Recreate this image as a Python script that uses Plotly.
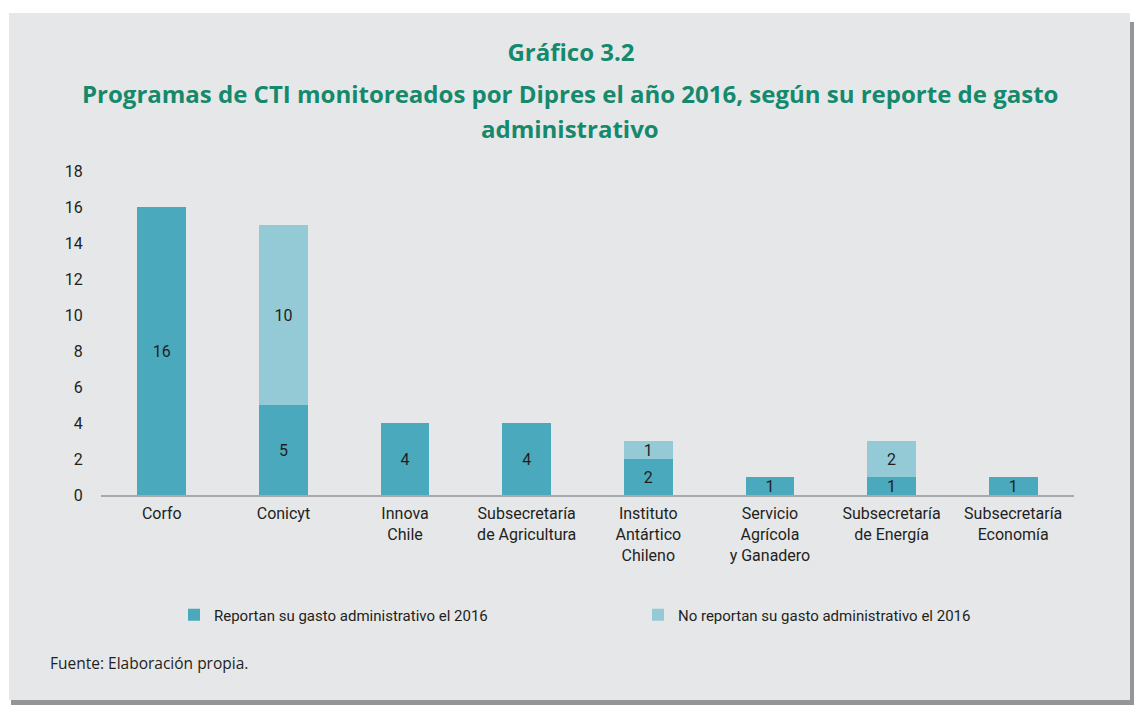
import plotly.graph_objects as go

W, H = 1136, 706
ML, MR, MT, MB = 101, 62, 171, 211
PW, PH = W - ML - MR, H - MT - MB

categories = ["Corfo", "Conicyt", "Innova<br>Chile", "Subsecretaría<br>de Agricultura",
              "Instituto<br>Antártico<br>Chileno", "Servicio<br>Agrícola<br>y Ganadero",
              "Subsecretaría<br>de Energía", "Subsecretaría<br>Economía"]
reportan = [16, 5, 4, 4, 2, 1, 1, 1]
no_reportan = [0, 10, 0, 0, 1, 0, 2, 0]
y_ticks = [0, 2, 4, 6, 8, 10, 12, 14, 16, 18]

series_names = ["Reportan su gasto administrativo el 2016",
                "No reportan su gasto administrativo el 2016"]
title_line1 = "Gráfico 3.2"
title_line2 = "Programas de CTI monitoreados por Dipres el año 2016, según su reporte de gasto"
title_line3 = "administrativo"
footer = "Fuente: Elaboración propia."

COND = "Roboto, Lato, sans-serif"
SANS = "Open Sans, DejaVu Sans, sans-serif"
TXT = "#231f20"
C1, C2 = "#4aa9bd", "#93cad6"
GREEN = "#14896c"


def px_x(x):
    return (x - ML) / PW


def px_y(y):
    return (H - MB - y) / PH


fig = go.Figure()
for name, vals, col in [(series_names[0], reportan, C1), (series_names[1], no_reportan, C2)]:
    fig.add_trace(go.Bar(
        x=categories, y=vals, name=name, marker=dict(color=col, line=dict(width=0)),
        text=[str(v) if v else "" for v in vals], textposition="inside",
        insidetextanchor="middle", textangle=0,
        textfont=dict(family=COND, size=16, color=TXT),
        width=0.4,
    ))

shapes = [
    dict(type="rect", xref="paper", yref="paper", layer="below",
         x0=px_x(11), x1=px_x(1134), y0=px_y(705), y1=px_y(22),
         fillcolor="#939598", line=dict(width=0)),
    dict(type="rect", xref="paper", yref="paper", layer="below",
         x0=px_x(9), x1=px_x(1130), y0=px_y(700), y1=px_y(13),
         fillcolor="#e6e7e9", line=dict(width=0)),
]

annotations = [
    dict(text=f"<b>{title_line2}</b>", xref="paper", yref="paper", x=px_x(570), y=px_y(93),
         xanchor="center", yanchor="middle", showarrow=False,
         font=dict(family=SANS, size=24, color=GREEN)),
    dict(text=f"<b>{title_line3}</b>", xref="paper", yref="paper", x=px_x(570), y=px_y(128),
         xanchor="center", yanchor="middle", showarrow=False,
         font=dict(family=SANS, size=24, color=GREEN)),
    dict(text=footer, xref="paper", yref="paper", x=px_x(48), y=px_y(663),
         xanchor="left", yanchor="middle", showarrow=False,
         font=dict(family=SANS, size=15.5, color=TXT)),
]

fig.update_layout(
    width=W, height=H,
    margin=dict(l=ML, r=MR, t=MT, b=MB, autoexpand=False),
    paper_bgcolor="white", plot_bgcolor="rgba(0,0,0,0)",
    barmode="stack",
    title=dict(text=f"<b>{title_line1}</b>", x=571 / W, xanchor="center", xref="container",
               y=1 - 53 / H, yanchor="middle", yref="container",
               font=dict(family=SANS, size=24, color=GREEN)),
    xaxis=dict(showline=True, linecolor="#a7a9ac", linewidth=1.5, ticks="",
               showgrid=False, zeroline=False, ticklabelstandoff=3,
               tickfont=dict(family=COND, size=16, color=TXT)),
    yaxis=dict(range=[0, 18], tickvals=y_ticks, showgrid=False, zeroline=False,
               showline=False, ticks="outside", ticklen=14, tickcolor="rgba(0,0,0,0)",
               tickfont=dict(family=COND, size=16, color=TXT)),
    legend=dict(orientation="h", xref="container", x=174 / W, yref="paper", y=px_y(615),
                xanchor="left", yanchor="middle",
                entrywidth=419, entrywidthmode="pixels", bgcolor="rgba(0,0,0,0)",
                font=dict(family=COND, size=15, color=TXT), traceorder="normal"),
    uniformtext=dict(mode="show", minsize=16),
    shapes=shapes, annotations=annotations,
    showlegend=True,
)

fig.write_html("out.html", config={"displayModeBar": False},
               post_script="document.body.style.margin='0';")
